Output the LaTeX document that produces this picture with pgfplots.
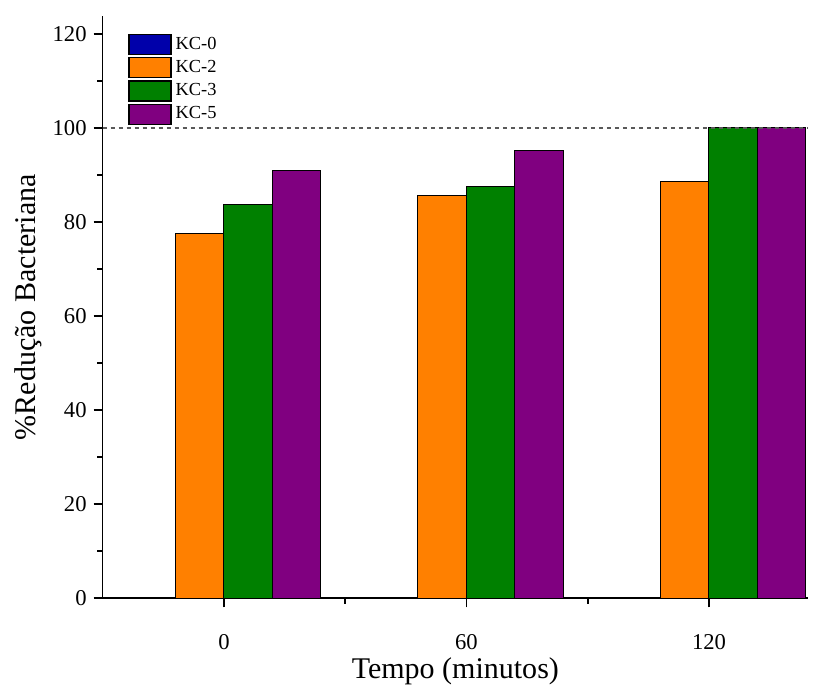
\documentclass[border=0pt]{standalone}
\usepackage{fontspec}
\setmainfont{Liberation Serif}
\usepackage{pgfplots}
\pgfplotsset{compat=1.18}
\definecolor{kcblue}{RGB}{0,0,170}
\definecolor{kcorange}{RGB}{255,128,0}
\definecolor{kcgreen}{RGB}{0,128,0}
\definecolor{kcpurple}{RGB}{128,0,128}
\begin{document}
\begin{tikzpicture}
\begin{axis}[
  name=ax,
  scale only axis,
  width=352.5pt, height=291pt,
  xmin=-30, xmax=144.5,
  ymin=0, ymax=123.8,
  axis x line*=bottom, axis y line*=left,
  axis line style={line width=0.8pt},
  tick align=outside,
  major tick length=4.5pt, minor tick length=2.8pt,
  tick style={line width=0.8pt, black},
  xtick={0,60,120},
  minor xtick={30,90},
  ytick={0,20,40,60,80,100,120},
  minor ytick={10,30,50,70,90,110},
  /pgf/number format/assume math mode=true,
  tick label style={font=\fontsize{11.3}{13}\selectfont},
  xticklabel style={yshift=-10pt},
  xlabel={Tempo (minutos)},
  ylabel={\%Redução Bacteriana},
  label style={font=\fontsize{15}{18}\selectfont},
  xlabel style={yshift=3pt},
  ylabel style={yshift=-1.5pt},
  legend style={draw=none, fill=none, at={(rel axis cs:0.033,0.975)}, anchor=north west,
    font=\fontsize{9.2}{11}\selectfont, row sep=0pt, inner sep=1pt},
  legend cell align=left,
  legend image code/.code={\draw[#1, line width=0.6pt] (0pt,-5pt) rectangle (21pt,5pt);},
]
\addplot[ybar, bar width=12, bar shift=-18, fill=kcblue, draw=black, line width=0.5pt]
  coordinates {(0,0) (60,0) (120,0)};
\addlegendentry{KC-0}
\addplot[ybar, bar width=12, bar shift=-6, fill=kcorange, draw=black, line width=0.5pt]
  coordinates {(0,77.5) (60,85.7) (120,88.7)};
\addlegendentry{KC-2}
\addplot[ybar, bar width=12, bar shift=6, fill=kcgreen, draw=black, line width=0.5pt]
  coordinates {(0,83.8) (60,87.6) (120,100)};
\addlegendentry{KC-3}
\addplot[ybar, bar width=12, bar shift=18, fill=kcpurple, draw=black, line width=0.5pt]
  coordinates {(0,90.9) (60,95.3) (120,100)};
\addlegendentry{KC-5}
\addplot[forget plot, gray!70!black, line width=0.6pt, dash pattern=on 2pt off 2pt]
  coordinates {(-30,100) (144.5,100)};
\end{axis}
\pgfresetboundingbox
\path ([xshift=-51.3pt,yshift=-45pt]ax.south west) rectangle ([xshift=5pt,yshift=8pt]ax.north east);
\end{tikzpicture}
\end{document}
